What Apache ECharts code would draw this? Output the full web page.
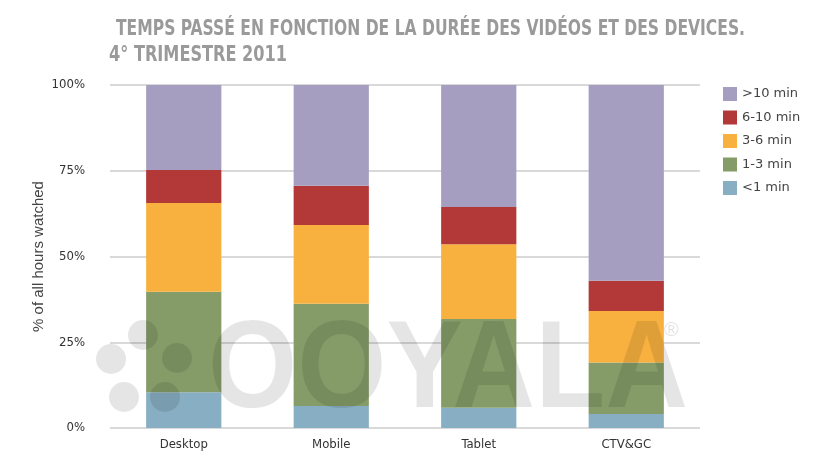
<!DOCTYPE html>
<html>
<head>
<meta charset="utf-8">
<script src="https://cdn.jsdelivr.net/npm/echarts@6/dist/echarts.min.js"></script>
<style>
  html, body { margin: 0; padding: 0; background: #fff; }
  #chart { width: 820px; height: 464px; }
</style>
</head>
<body>
<div id="chart"></div>
<script>
const categories = ['Desktop', 'Mobile', 'Tablet', 'CTV&GC']
const lessThan1 = [10.4, 6.4, 5.9, 4.1]
const oneToThree = [29.3, 29.8, 25.9, 15.0]
const threeToSix = [25.9, 23.0, 21.8, 15.0]
const sixToTen = [9.6, 11.4, 10.8, 8.8]
const moreThan10 = [24.8, 29.4, 35.6, 57.1]
const seriesNames = ['<1 min', '1-3 min', '3-6 min', '6-10 min', '>10 min']
const seriesColors = ['#88aec3', '#859c68', '#f8b13f', '#b33939', '#a59ec0']
const yTicks = [0, 25, 50, 75, 100]

const titleLines = ['TEMPS PASSÉ EN FONCTION DE LA DURÉE DES VIDÉOS ET DES DEVICES.', '4° TRIMESTRE 2011']

const condensed = '"DejaVu Sans Condensed", "DejaVu Sans", sans-serif'
const seriesData = [lessThan1, oneToThree, threeToSix, sixToTen, moreThan10]

// horizontal squeeze so a text fits a given width (the original uses a condensed face)
const measureCtx = document.createElement('canvas').getContext('2d')
function fitScale(text, font, width) {
  measureCtx.font = font
  return width / measureCtx.measureText(text).width
}

const titleFont = 'bold 22px "DejaVu Sans Condensed", "DejaVu Sans", sans-serif'
const markFont = 'bold 124px "Liberation Sans", sans-serif'
const watermark = { fill: 'rgba(0,0,0,0.1)' }
const dots = [[143, 335], [111, 359], [124, 397], [177, 358], [165, 397]]

const chart = echarts.init(document.getElementById('chart'))
chart.setOption({
  animation: false,
  backgroundColor: '#fff',
  legend: {
    orient: 'vertical',
    left: 718,
    top: 82,
    itemWidth: 14,
    itemHeight: 14,
    itemGap: 9.5,
    icon: 'rect',
    data: seriesNames.slice().reverse(),
    textStyle: { fontFamily: '"DejaVu Sans", sans-serif', fontSize: 13, color: '#444' }
  },
  grid: { left: 110, right: 120, top: 85, bottom: 36 },
  xAxis: {
    type: 'category',
    data: categories,
    axisLine: { show: false },
    axisTick: { show: false },
    axisLabel: { fontFamily: condensed, fontSize: 13, color: '#333', margin: 10 }
  },
  yAxis: {
    type: 'value',
    min: yTicks[0],
    max: yTicks[yTicks.length - 1],
    interval: 25,
    name: '% of all hours watched',
    nameLocation: 'middle',
    nameGap: 64,
    nameMoveOverlap: false,
    nameTextStyle: { fontFamily: '"Liberation Sans", sans-serif', fontSize: 15, color: '#444' },
    axisLine: { show: false },
    axisTick: { show: false },
    axisLabel: {
      formatter: '{value}%',
      fontFamily: condensed,
      fontSize: 13,
      color: '#333',
      margin: 25
    },
    splitLine: { lineStyle: { color: '#d9d9d9', width: 2 } }
  },
  series: seriesNames.map((name, i) => ({
    name: name,
    type: 'bar',
    stack: 'total',
    barWidth: '51%',
    data: seriesData[i],
    itemStyle: { color: seriesColors[i] }
  })),
  graphic: [
    {
      type: 'text',
      x: 116,
      y: 18,
      scaleX: fitScale(titleLines[0], titleFont, 629),
      style: { text: titleLines[0], font: titleFont, fill: '#9a9a9a' }
    },
    {
      type: 'text',
      x: 109,
      y: 44,
      scaleX: fitScale(titleLines[1], titleFont, 178),
      style: { text: titleLines[1], font: titleFont, fill: '#9a9a9a' }
    },
    ...dots.map(d => ({
      type: 'circle', z: 100, shape: { cx: d[0], cy: d[1], r: 15 }, style: watermark
    })),
    {
      type: 'text',
      z: 100,
      x: 208,
      y: 311,
      scaleX: fitScale('OOYALA', markFont, 480),
      style: { text: 'OOYALA', font: markFont, fill: 'rgba(0,0,0,0.1)' }
    },
    {
      type: 'text',
      z: 100,
      x: 664,
      y: 320,
      style: { text: '®', font: '20px "Liberation Sans", sans-serif', fill: 'rgba(0,0,0,0.12)' }
    }
  ]
})
</script>
</body>
</html>
